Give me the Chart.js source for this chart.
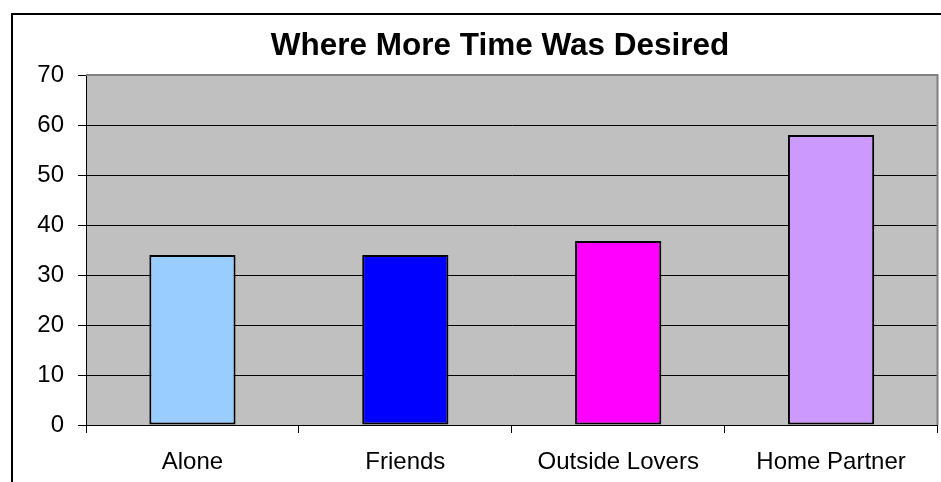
<!DOCTYPE html>
<html>
<head>
<meta charset="utf-8">
<script src="https://cdn.jsdelivr.net/npm/chart.js"></script>
<style>
  html, body { margin: 0; padding: 0; background: #fff; }
  #wrap { width: 941px; height: 482px; }
</style>
</head>
<body>
<div id="wrap"><canvas id="chart" width="941" height="482"></canvas></div>
<script>
const chartTitle = 'Where More Time Was Desired';
const categories = ['Alone', 'Friends', 'Outside Lovers', 'Home Partner'];
const values = [34, 34, 36.8, 58];
const barColors = ['#99CCFF', '#0000FF', '#FF00FF', '#CC99FF'];
const yTicks = [0, 10, 20, 30, 40, 50, 60, 70];

const fontFamily = "Arial, 'Liberation Sans', sans-serif";

// frame, gray plot area and the title
const backdrop = {
    id: 'backdrop',
    beforeDraw(chart) {
        const ctx = chart.ctx;
        const a = chart.chartArea;
        ctx.save();
        ctx.fillStyle = '#fff';
        ctx.fillRect(0, 0, chart.width, chart.height);
        ctx.strokeStyle = '#000';
        ctx.lineWidth = 2;
        ctx.strokeRect(12, 14, 1000, 1000);
        ctx.fillStyle = '#C0C0C0';
        ctx.fillRect(a.left, a.top, a.right - a.left, a.bottom - a.top);
        ctx.fillStyle = '#000';
        ctx.font = 'bold 31.5px ' + fontFamily;
        ctx.textAlign = 'center';
        ctx.textBaseline = 'middle';
        ctx.fillText(chartTitle, 500, 46);
        ctx.restore();
    },
    beforeDatasetsDraw(chart) {
        const ctx = chart.ctx;
        const a = chart.chartArea;
        ctx.save();
        ctx.strokeStyle = '#808080';
        ctx.lineWidth = 2;
        ctx.beginPath();
        ctx.moveTo(a.left, a.top);
        ctx.lineTo(a.right, a.top);
        ctx.lineTo(a.right, a.bottom);
        ctx.stroke();
        ctx.restore();
    }
};

new Chart(document.getElementById('chart'), {
    type: 'bar',
    data: {
        labels: categories,
        datasets: [{
            data: values,
            backgroundColor: barColors,
            borderColor: '#000',
            borderWidth: 2,
            borderSkipped: false,
            categoryPercentage: 1,
            barPercentage: 0.405
        }]
    },
    options: {
        responsive: false,
        animation: false,
        layout: { padding: { top: 75, right: 3.5, bottom: 0, left: 0 } },
        plugins: {
            legend: { display: false },
            title: { display: false },
            tooltip: { enabled: false }
        },
        scales: {
            x: {
                grid: {
                    drawOnChartArea: false,
                    drawTicks: true,
                    tickLength: 8,
                    color: '#000'
                },
                border: { color: '#000', width: 1 },
                ticks: {
                    color: '#000',
                    padding: 15,
                    maxRotation: 0,
                    font: { family: fontFamily, size: 24 }
                },
                afterFit(scale) { scale.height = 57; }
            },
            y: {
                min: 0,
                max: 70,
                afterBuildTicks(scale) {
                    scale.ticks = yTicks.map(v => ({ value: v }));
                },
                grid: {
                    color: '#000',
                    tickLength: 8
                },
                border: { color: '#000', width: 1 },
                ticks: {
                    color: '#000',
                    padding: 14,
                    font: { family: fontFamily, size: 24 }
                },
                afterFit(scale) { scale.width = 86; }
            }
        }
    },
    plugins: [backdrop]
});
</script>
</body>
</html>
